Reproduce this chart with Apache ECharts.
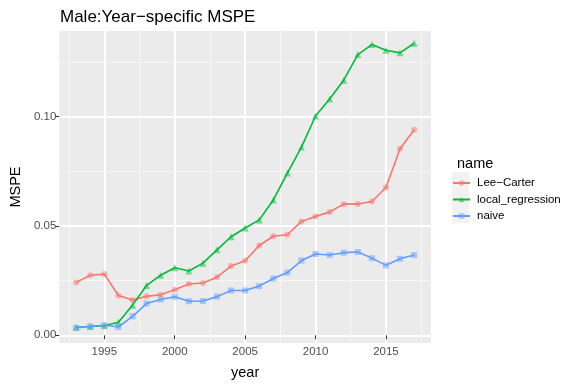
<!DOCTYPE html>
<html>
<head>
<meta charset="utf-8">
<script src="https://cdn.jsdelivr.net/npm/echarts@6/dist/echarts.min.js"></script>
<style>
  html, body { margin: 0; padding: 0; background: #fff; }
  #chart { width: 581px; height: 387px; }
</style>
</head>
<body>
<div id="chart"></div>
<script>
// data
const years = [1993, 1994, 1995, 1996, 1997, 1998, 1999, 2000, 2001, 2002, 2003, 2004, 2005,
  2006, 2007, 2008, 2009, 2010, 2011, 2012, 2013, 2014, 2015, 2016, 2017];
const leeCarter = [0.0242, 0.0275, 0.0280, 0.0182, 0.0161, 0.0179, 0.0185, 0.0208, 0.0235, 0.0239,
  0.0266, 0.0317, 0.0341, 0.0411, 0.0453, 0.0460, 0.0521, 0.0544, 0.0564, 0.0600, 0.0601,
  0.0612, 0.0676, 0.0853, 0.0940];
const localRegression = [0.0037, 0.0040, 0.0044, 0.0060, 0.0138, 0.0228, 0.0275, 0.0309, 0.0294,
  0.0330, 0.0391, 0.0451, 0.0491, 0.0528, 0.0619, 0.0742, 0.0861, 0.1003, 0.1081, 0.1167,
  0.1284, 0.1330, 0.1304, 0.1292, 0.1336];
const naive = [0.0034, 0.0041, 0.0046, 0.0038, 0.0087, 0.0145, 0.0164, 0.0176, 0.0156, 0.0157,
  0.0177, 0.0205, 0.0205, 0.0225, 0.0260, 0.0287, 0.0342, 0.0372, 0.0367, 0.0378, 0.0381,
  0.0353, 0.0320, 0.0350, 0.0367];

const seriesNames = ['Lee\u2212Carter', 'local_regression', 'naive'];
const xTicks = [1995, 2000, 2005, 2010, 2015];
const xMinor = [1992.5, 1997.5, 2002.5, 2007.5, 2012.5, 2017.5];
const yTicks = [0, 0.05, 0.1];
const yMinor = [0.025, 0.075, 0.125];

const font = 'Liberation Sans, Arial, sans-serif';
const colors = ['#F8766D', '#00BA38', '#619CFF'];
const symbols = ['circle', 'triangle', 'rect'];
const sizes = [6, 7, 6];

const pair = (vals) => years.map((y, i) => [y, vals[i]]);
const allValues = [leeCarter, localRegression, naive];

const chart = echarts.init(document.getElementById('chart'), null, { renderer: 'canvas' });

const xBase = {
  type: 'value', min: 1991.8, max: 2018.2,
  axisLine: { show: false }
};
const yBase = {
  type: 'value', min: -0.00352, max: 0.1392,
  axisLine: { show: false }
};

const option = {
  backgroundColor: '#fff',
  animation: false,
  color: colors,
  title: [
    { text: 'Male:Year\u2212specific MSPE', left: 55, top: 4,
      textStyle: { fontFamily: font, fontSize: 17, fontWeight: 'normal', color: '#000' } },
    { text: 'name', left: 452, top: 151,
      textStyle: { fontFamily: font, fontSize: 14.5, fontWeight: 'normal', color: '#000' } }
  ],
  grid: { left: 56, right: 150, top: 31, bottom: 44, show: true,
    backgroundColor: '#EBEBEB', borderWidth: 0 },
  legend: {
    orient: 'vertical', left: 452, top: 177, padding: 0,
    itemWidth: 17, itemHeight: 7, itemGap: 4.5,
    data: seriesNames,
    itemStyle: { opacity: 0.5 },
    textStyle: { fontFamily: font, fontSize: 11.5, color: '#000', padding: [0, 0, 0, 2] }
  },
  graphic: [
    { type: 'rect', left: 452, top: 172, z: -1,
      shape: { width: 17, height: 51 }, style: { fill: '#F2F2F2' } }
  ],
  xAxis: [
    Object.assign({}, xBase, {
      name: 'year', nameLocation: 'middle', nameGap: 22,
      nameTextStyle: { fontFamily: font, fontSize: 14.5, color: '#000' },
      axisTick: { customValues: xTicks, length: 4, lineStyle: { color: '#333' } },
      axisLabel: { customValues: xTicks, margin: 3, fontFamily: font, fontSize: 11.5, color: '#4D4D4D',
        formatter: (v) => String(v) },
      splitLine: { show: true, lineStyle: { color: '#fff', width: 2 } }
    }),
    Object.assign({}, xBase, {
      position: 'top',
      axisTick: { show: false, customValues: xMinor },
      axisLabel: { show: false, customValues: xMinor },
      splitLine: { show: true, lineStyle: { color: '#F7F7F7', width: 1 } }
    })
  ],
  yAxis: [
    Object.assign({}, yBase, {
      name: 'MSPE', nameLocation: 'middle', nameGap: 34,
      nameTextStyle: { fontFamily: font, fontSize: 14.5, color: '#000' },
      axisTick: { customValues: yTicks, length: 4, lineStyle: { color: '#333' } },
      axisLabel: { customValues: yTicks, margin: 3, fontFamily: font, fontSize: 11.5, color: '#4D4D4D',
        formatter: (v) => v.toFixed(2) },
      splitLine: { show: true, lineStyle: { color: '#fff', width: 2 } }
    }),
    Object.assign({}, yBase, {
      position: 'right',
      axisTick: { show: false, customValues: yMinor },
      axisLabel: { show: false, customValues: yMinor },
      splitLine: { show: true, lineStyle: { color: '#F7F7F7', width: 1 } }
    })
  ],
  series: seriesNames.map((name, i) => ({
    name: name,
    type: 'line',
    data: pair(allValues[i]),
    symbol: symbols[i],
    symbolSize: sizes[i],
    showAllSymbol: true,
    lineStyle: { color: colors[i], width: 1.6 },
    itemStyle: { color: colors[i], opacity: 0.5 },
    z: 2 + i
  }))
};

chart.setOption(option);
</script>
</body>
</html>
